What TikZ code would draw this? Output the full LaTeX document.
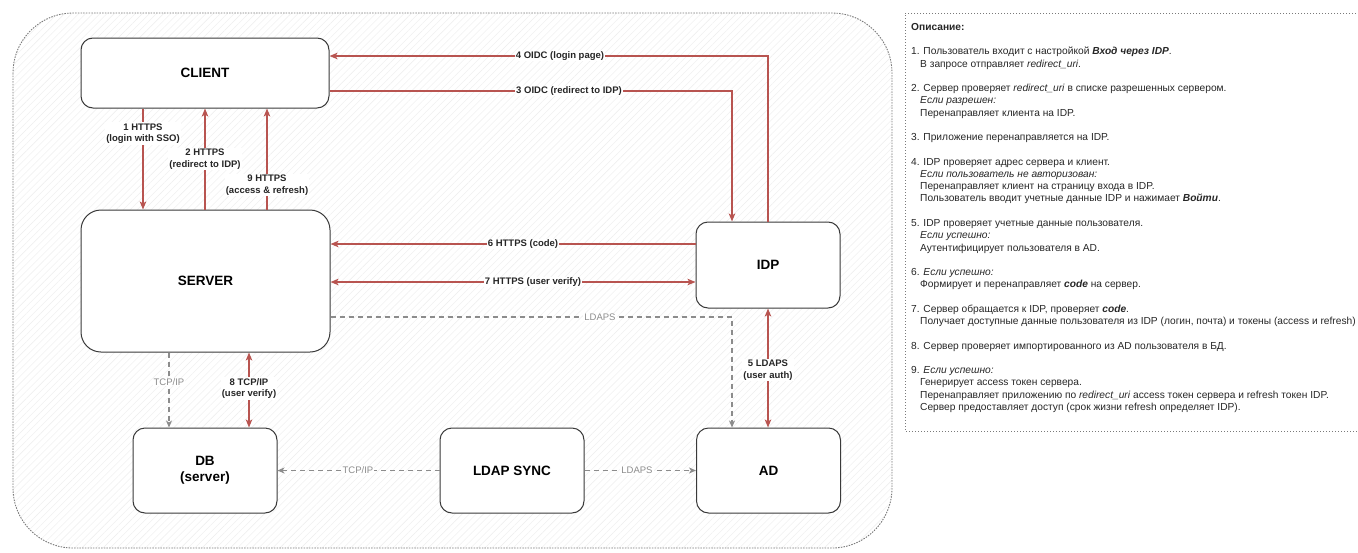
\documentclass[tikz,border=0pt]{standalone}
\usepackage{fontspec}
\setmainfont{Liberation Sans}
\usetikzlibrary{arrows.meta,patterns.meta}
\definecolor{redarr}{HTML}{B85450}
\definecolor{boxline}{HTML}{3A3A3A}
\definecolor{dashgray}{HTML}{8C8C8C}
\definecolor{framegray}{HTML}{7A7A7A}
\newcommand{\descind}{\hspace*{9pt}}
\newcommand{\descgap}{\\[12.26pt]}
\begin{document}
\begin{tikzpicture}[x=1pt,y=-1pt,
  box/.style={draw=boxline, line width=1pt, rounded corners=12pt, fill=white,
    font=\fontsize{13.5}{16.2}\selectfont\bfseries, align=center, inner sep=0pt,
    minimum width=144pt, minimum height=85pt},
  flow/.style={draw=redarr, line width=1.5pt, -{Stealth[length=8pt,width=6.5pt,inset=2pt]}},
  biflow/.style={draw=redarr, line width=1.5pt, {Stealth[length=8pt,width=6.5pt,inset=2pt]}-{Stealth[length=8pt,width=6.5pt,inset=2pt]}},
  dflow/.style={draw=dashgray, line width=1.1pt, dash pattern=on 5pt off 4pt, -{Stealth[length=7pt,width=6pt,inset=2pt]}},
  lbl/.style={font=\fontsize{9.5}{11.5}\selectfont\bfseries, fill=white, inner sep=1pt, align=center, text=black!85},
  glbl/.style={font=\fontsize{9.5}{11.5}\selectfont, fill=white, inner sep=1pt, text=dashgray},
  desc/.style={font=\fontsize{10.2}{12.26}\selectfont, align=left, inner sep=0pt, anchor=north west, text=black!85}
]
\useasboundingbox (0,0) rectangle (1358,552);

% outer frame with faint hatch
\fill[white, rounded corners=60pt] (13,13) rectangle (892,548);
\fill[pattern={Lines[angle=45,distance=5pt,line width=0.4pt]}, pattern color=black!7, rounded corners=60pt] (13,13) rectangle (892,548);
\draw[framegray, line width=0.9pt, dash pattern=on 1.5pt off 1.2pt, rounded corners=60pt] (13,13) rectangle (892,548);

% description frame
\draw[framegray, line width=0.8pt, dash pattern=on 1pt off 2pt] (1365,13) -- (905,13) -- (905,431) -- (1365,431);

% nodes
\node[box, minimum width=248pt, minimum height=70pt] (client) at (205,73) {CLIENT};
\node[box, rounded corners=20pt, minimum width=249pt, minimum height=142pt] (server) at (205.5,281) {SERVER};
\node[box, minimum height=86pt] (idp) at (768,265) {IDP};
\node[box] (db) at (205,470.5) {DB\\(server)};
\node[box] (sync) at (512,470.5) {LDAP SYNC};
\node[box] (ad) at (768.5,470.5) {AD};

% helper coordinates
\coordinate (x1) at (143,0);
\coordinate (x2) at (205,0);
\coordinate (x9) at (267,0);
\coordinate (xl) at (732,0);
\coordinate (xt) at (169,0);
\coordinate (x8) at (249,0);
\coordinate (y4) at (0,56);
\coordinate (y3) at (0,91);
\coordinate (y6) at (0,244);
\coordinate (y7) at (0,282);
\coordinate (yl) at (0,317);

% client <-> server
\draw[flow] (client.south -| x1) -- (server.north -| x1);
\node[lbl] (l1) at (143,133.5) {1 HTTPS\\(login with SSO)};
\draw[flow] (server.north -| x2) -- (client.south -| x2);
\node[lbl] (l2) at (205,159) {2 HTTPS\\(redirect to IDP)};
\draw[flow] (server.north -| x9) -- (client.south -| x9);
\node[lbl] (l9) at (267,185) {9 HTTPS\\(access \& refresh)};

% client <-> idp
\draw[flow] (idp.north) -- (idp.north |- y4) -- (client.east |- y4);
\node[lbl] (l4) at (560,56) {4 OIDC (login page)};
\draw[flow] (client.east |- y3) -- (xl |- y3) -- (idp.north -| xl);
\node[lbl] (l3) at (569,91) {3 OIDC (redirect to IDP)};

% server <-> idp
\draw[flow] (idp.west |- y6) -- (server.east |- y6);
\node[lbl] (l6) at (523,244) {6 HTTPS (code)};
\draw[biflow] (server.east |- y7) -- (idp.west |- y7);
\node[lbl] (l7) at (533,282) {7 HTTPS (user verify)};

% server -> ad (ldaps)
\draw[dflow] (server.east |- yl) -- (xl |- yl) -- (ad.north -| xl);
\node[glbl] (ll) at (600,317) {LDAPS};

% idp <-> ad
\draw[biflow] (idp.south) -- (ad.north -| idp.south);
\node[lbl] (l5) at (768,370) {5 LDAPS\\(user auth)};

% server <-> db
\draw[dflow] (server.south -| xt) -- (db.north -| xt);
\node[glbl] (lt) at (169,382) {TCP/IP};
\draw[biflow] (server.south -| x8) -- (db.north -| x8);
\node[lbl] (l8) at (249,388.5) {8 TCP/IP\\(user verify)};

% ldap sync
\draw[dflow] (sync.west) -- (db.east);
\node[glbl] (ls1) at (358,470.5) {TCP/IP};
\draw[dflow] (sync.east) -- (ad.west);
\node[glbl] (ls2) at (637,470.5) {LDAPS};

% description text
\node[desc] (desc) at (911,23) {%
\textbf{Описание:}\descgap
1. Пользователь входит с настройкой \textbf{\textit{Вход через IDP}}.\\
\descind В запросе отправляет \textit{redirect\_uri}.\descgap
2. Сервер проверяет \textit{redirect\_uri} в списке разрешенных сервером.\\
\descind\textit{Если разрешен:}\\
\descind Перенаправляет клиента на IDP.\descgap
3. Приложение перенаправляется на IDP.\descgap
4. IDP проверяет адрес сервера и клиент.\\
\descind\textit{Если пользователь не авторизован:}\\
\descind Перенаправляет клиент на страницу входа в IDP.\\
\descind Пользователь вводит учетные данные IDP и нажимает \textbf{\textit{Войти}}.\descgap
5. IDP проверяет учетные данные пользователя.\\
\descind\textit{Если успешно:}\\
\descind Аутентифицирует пользователя в AD.\descgap
6. \textit{Если успешно:}\\
\descind Формирует и перенаправляет \textbf{\textit{code}} на сервер.\descgap
7. Сервер обращается к IDP, проверяет \textbf{\textit{code}}.\\
\descind Получает доступные данные пользователя из IDP (логин, почта) и токены (access и refresh)\descgap
8. Сервер проверяет импортированного из AD пользователя в БД.\descgap
9. \textit{Если успешно:}\\
\descind Генерирует access токен сервера.\\
\descind Перенаправляет приложению по \textit{redirect\_uri} access токен сервера и refresh токен IDP.\\
\descind Сервер предоставляет доступ (срок жизни refresh определяет IDP).};
\end{tikzpicture}
\end{document}
